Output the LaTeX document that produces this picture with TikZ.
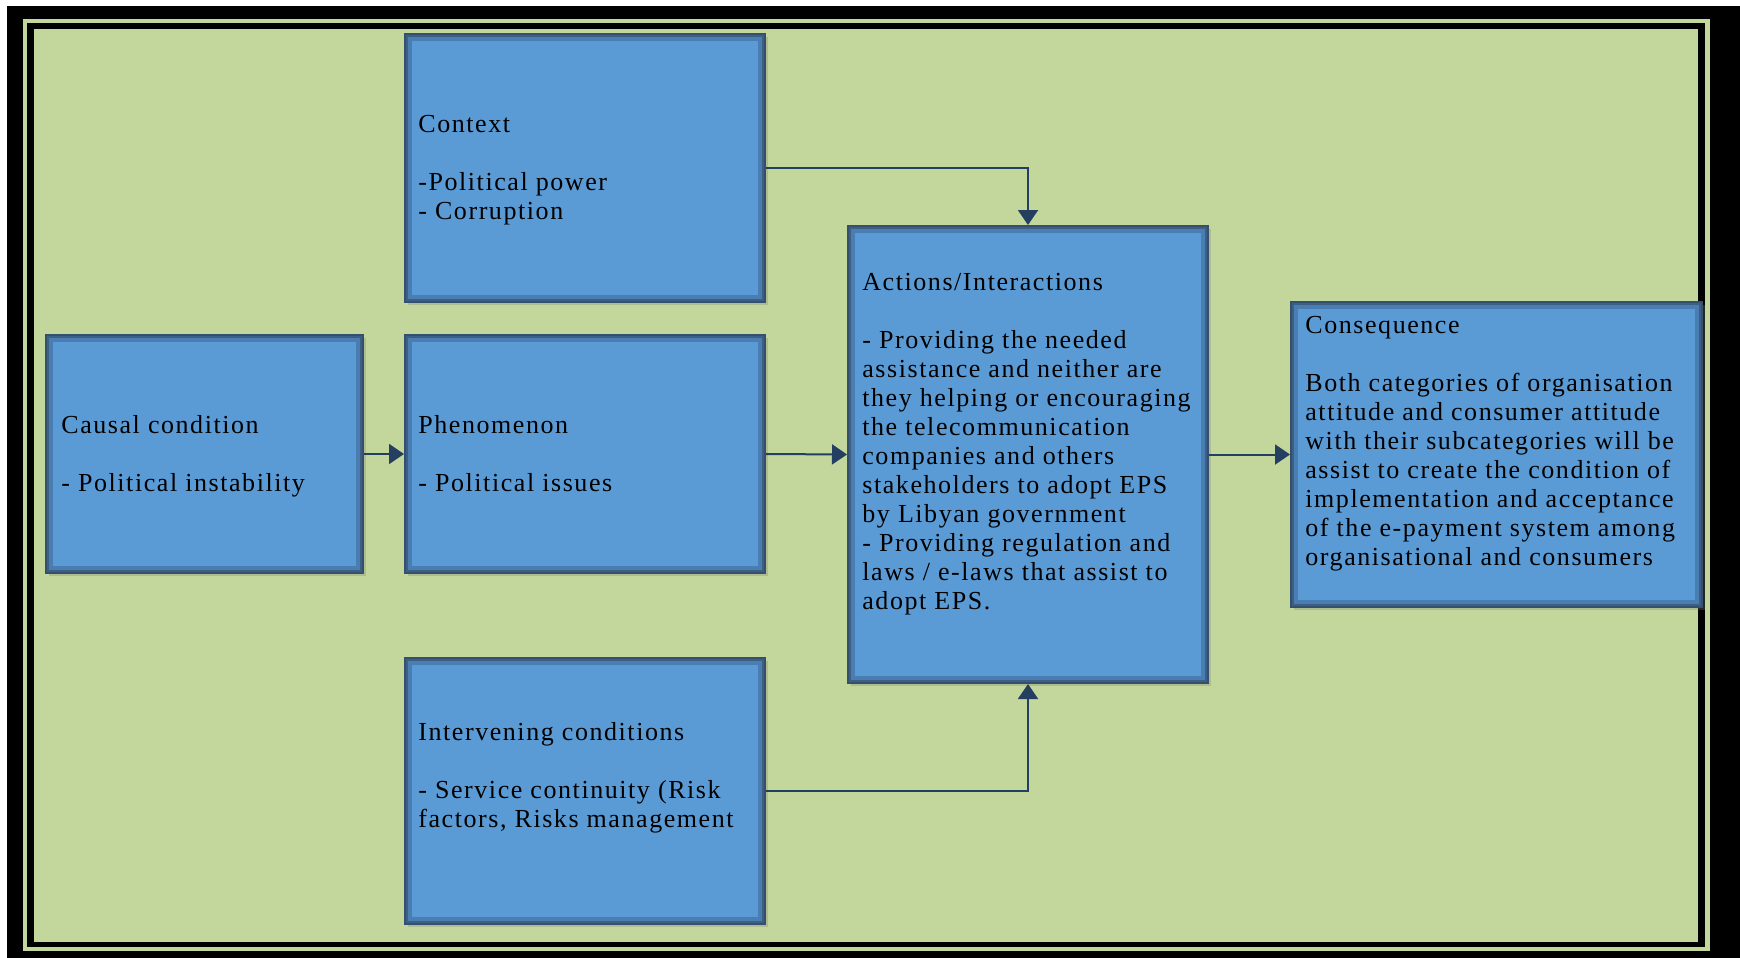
\documentclass[tikz,border=0pt]{standalone}
\usepackage{fontspec}
\setmainfont{Liberation Serif}[LetterSpace=6]
\usetikzlibrary{arrows.meta,shadows}
\definecolor{bggreen}{HTML}{C3D69B}
\definecolor{boxblue}{HTML}{5B9BD5}
\definecolor{boxedge}{HTML}{34506E}
\definecolor{boxglow}{HTML}{4A7DB2}
\definecolor{arrowc}{HTML}{243F60}
\begin{document}
\begin{tikzpicture}[x=0.5pt,y=-0.5pt,
  box/.style={fill=boxblue, draw=boxedge, line width=1pt, inner sep=0pt,
    drop shadow={shadow xshift=1.5pt, shadow yshift=-1.5pt, opacity=0.3},
    path picture={\draw[boxglow, line width=7pt] (path picture bounding box.south west) rectangle (path picture bounding box.north east);
      \draw[boxedge!80!boxblue, line width=3pt] (path picture bounding box.south west) rectangle (path picture bounding box.north east);}},
  lbl/.style={anchor=base west, inner sep=0pt, font=\fontsize{13pt}{14.5pt}\selectfont},
  conn/.style={draw=arrowc, line width=1pt, -{Triangle[length=7.5pt,width=10pt]}}]
\useasboundingbox (0,0) rectangle (1740,958);
% frame
\fill[white] (0,0) rectangle (1740,958);
\fill[black] (7,6) rectangle (1740,958);
\fill[bggreen] (23,19) rectangle (1710,951);
\fill[black] (27,23) rectangle (1705,947);
\fill[bggreen] (34,29) rectangle (1698,942);
% boxes
\node[box, minimum width=180pt, minimum height=134pt] (ctx) at (585,168) {};
\node[box, minimum width=158.5pt, minimum height=119pt] (cau) at (204.5,454) {};
\node[box, minimum width=180pt, minimum height=119pt] (phe) at (585,454) {};
\node[box, minimum width=180pt, minimum height=133pt] (int) at (585,791) {};
\node[box, minimum width=180pt, minimum height=228.5pt] (act) at (1028,454.5) {};
\node[box, minimum width=205.5pt, minimum height=152.5pt] (con) at (1496.5,454.5) {};
% texts
\node[lbl] (ctxT) at (418,132) {\parbox[t]{170pt}{\raggedright Context\\[14.5pt]-Political power\\- Corruption}};
\node[lbl] (cauT) at (61,433) {\parbox[t]{150pt}{\raggedright Causal condition\\[14.5pt]- Political instability}};
\node[lbl] (pheT) at (418,433) {\parbox[t]{170pt}{\raggedright Phenomenon\\[14.5pt]- Political issues}};
\node[lbl] (intT) at (418,740) {\parbox[t]{175pt}{\raggedright Intervening conditions\\[14.5pt]- Service continuity (Risk\\factors, Risks management}};
\node[lbl] (actT) at (862,290) {\parbox[t]{200pt}{\raggedright Actions/Interactions\\[14.5pt]- Providing the needed\\assistance and neither are\\they helping or encouraging\\the telecommunication\\companies and others\\stakeholders to adopt EPS\\by Libyan government\\- Providing regulation and\\laws / e-laws that assist to\\adopt EPS.}};
\node[lbl] (conT) at (1305,333) {\parbox[t]{210pt}{\raggedright Consequence\\[14.5pt]Both categories of organisation\\attitude and consumer attitude\\with their subcategories will be\\assist to create the condition of\\implementation and acceptance\\of the e-payment system among\\organisational and consumers}};
% connectors
\draw[conn] (cau.east) -- (phe.west);
\draw[conn] (phe.east) -- (act.west);
\draw[conn] (act.east) -- (con.west);
\draw[conn] (ctx.east) -| (act.north);
\draw[conn] (int.east) -| (act.south);
\end{tikzpicture}
\end{document}
